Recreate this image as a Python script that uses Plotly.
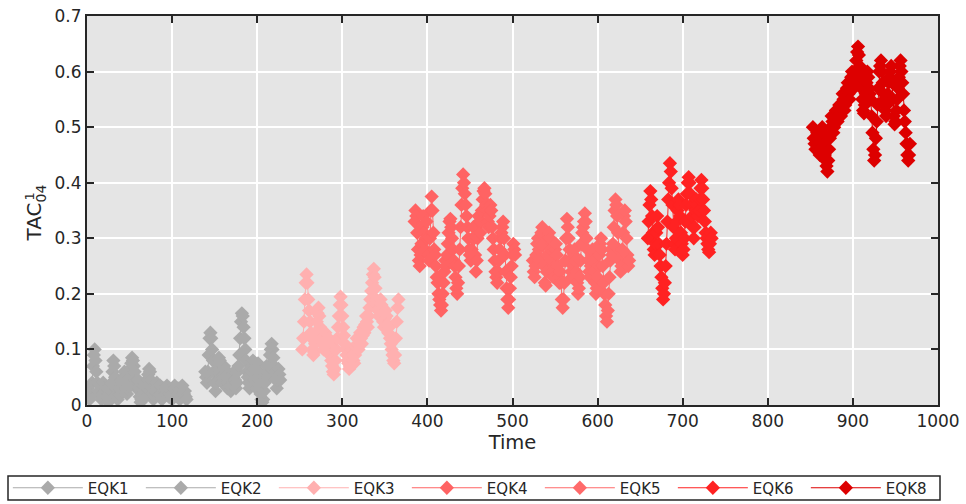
import plotly.graph_objects as go

# ---- data (one value per time step) ----
eqk1_start = 1
eqk1 = [0.03, 0.02, 0.01, 0.015, 0.02, 0.04, 0.07, 0.09, 0.10, 0.08,
        0.06, 0.04, 0.02, 0.025, 0.035, 0.02, 0.01, 0.02, 0.04, 0.03,
        0.02, 0.025, 0.03, 0.015, 0.005, 0.02, 0.035, 0.025, 0.04, 0.06,
        0.08, 0.07, 0.05, 0.03, 0.02, 0.01, 0.02, 0.04, 0.03, 0.02,
        0.025, 0.04, 0.05, 0.06, 0.05, 0.03, 0.02, 0.03, 0.035, 0.05,
        0.065, 0.075, 0.085, 0.08, 0.07, 0.06, 0.045, 0.03, 0.04, 0.045,
        0.03, 0.015, 0.005, 0.01, 0.02, 0.035, 0.04, 0.025, 0.015, 0.03,
        0.045, 0.055, 0.065, 0.06, 0.045, 0.03, 0.02, 0.01, 0.015, 0.025,
        0.035, 0.04, 0.03, 0.02, 0.025, 0.035, 0.02, 0.01, 0.015, 0.03,
        0.025, 0.02, 0.03, 0.035, 0.025, 0.015, 0.02, 0.025, 0.015, 0.01,
        0.02, 0.03, 0.035, 0.03, 0.02, 0.025, 0.03, 0.02, 0.01, 0.015,
        0.03, 0.035, 0.025, 0.02, 0.025, 0.015, 0.01]

eqk2_start = 139
eqk2 = [0.06, 0.05, 0.04, 0.06, 0.09, 0.12, 0.13, 0.12, 0.10, 0.08,
        0.06, 0.04, 0.025, 0.04, 0.06, 0.075, 0.085, 0.08, 0.06, 0.05,
        0.04, 0.05, 0.07, 0.065, 0.05, 0.035, 0.03, 0.04, 0.05, 0.035,
        0.025, 0.03, 0.04, 0.05, 0.06, 0.045, 0.03, 0.04, 0.06, 0.07,
        0.09, 0.12, 0.15, 0.165, 0.16, 0.14, 0.12, 0.10, 0.08, 0.06,
        0.05, 0.04, 0.03, 0.045, 0.06, 0.07, 0.08, 0.065, 0.045, 0.035,
        0.03, 0.05, 0.075, 0.06, 0.035, 0.02, 0.01, 0.005, 0.01, 0.025,
        0.04, 0.055, 0.07, 0.06, 0.05, 0.07, 0.09, 0.10, 0.11, 0.10,
        0.085, 0.07, 0.06, 0.045, 0.03, 0.045, 0.065, 0.055, 0.045]

eqk3_start = 253
eqk3 = [0.10, 0.12, 0.15, 0.19, 0.22, 0.235, 0.22, 0.19, 0.17, 0.15,
        0.13, 0.12, 0.10, 0.09, 0.095, 0.11, 0.13, 0.15, 0.165, 0.175,
        0.16, 0.14, 0.13, 0.12, 0.11, 0.10, 0.12, 0.13, 0.11, 0.095,
        0.10, 0.12, 0.11, 0.09, 0.08, 0.07, 0.06, 0.055, 0.065, 0.08,
        0.10, 0.12, 0.14, 0.16, 0.18, 0.195, 0.18, 0.16, 0.14, 0.125,
        0.11, 0.10, 0.09, 0.08, 0.075, 0.065, 0.07, 0.085, 0.10, 0.09,
        0.08, 0.075, 0.09, 0.105, 0.12, 0.11, 0.10, 0.115, 0.13, 0.12,
        0.11, 0.125, 0.14, 0.13, 0.145, 0.16, 0.15, 0.14, 0.16, 0.175,
        0.19, 0.205, 0.22, 0.235, 0.245, 0.23, 0.21, 0.19, 0.18, 0.17,
        0.16, 0.175, 0.19, 0.18, 0.165, 0.15, 0.14, 0.155, 0.17, 0.16,
        0.145, 0.13, 0.14, 0.12, 0.11, 0.10, 0.09, 0.08, 0.075, 0.09,
        0.12, 0.15, 0.175, 0.19]

eqk4_start = 385
eqk4 = [0.33, 0.35, 0.34, 0.31, 0.28, 0.26, 0.25, 0.27, 0.29, 0.32,
        0.34, 0.31, 0.28, 0.30, 0.33, 0.30, 0.27, 0.26, 0.30, 0.35,
        0.375, 0.35, 0.31, 0.28, 0.27, 0.25, 0.23, 0.22, 0.20, 0.19,
        0.18, 0.17, 0.18, 0.20, 0.22, 0.24, 0.26, 0.25, 0.27, 0.29,
        0.31, 0.33, 0.335, 0.32, 0.30, 0.28, 0.26, 0.25, 0.23, 0.21,
        0.20, 0.22, 0.25, 0.28, 0.32, 0.36, 0.39, 0.415, 0.40, 0.38,
        0.36, 0.34, 0.32, 0.30, 0.28, 0.27, 0.26, 0.28, 0.30, 0.32,
        0.30, 0.27, 0.24, 0.26, 0.30, 0.34, 0.33, 0.31, 0.33, 0.35,
        0.37, 0.385, 0.39, 0.38, 0.36, 0.35, 0.33, 0.32, 0.34, 0.36,
        0.35, 0.32, 0.30, 0.28, 0.26, 0.24, 0.23, 0.22, 0.24, 0.26,
        0.28, 0.30, 0.31, 0.32, 0.33, 0.30, 0.27, 0.24, 0.21, 0.19,
        0.175, 0.19, 0.21, 0.23, 0.25, 0.27, 0.29, 0.28, 0.27]

eqk5_start = 524
eqk5 = [0.26, 0.24, 0.23, 0.25, 0.27, 0.29, 0.30, 0.28, 0.26, 0.29,
        0.31, 0.32, 0.29, 0.25, 0.22, 0.215, 0.24, 0.27, 0.30, 0.31,
        0.30, 0.28, 0.26, 0.24, 0.23, 0.25, 0.28, 0.29, 0.27, 0.25,
        0.23, 0.22, 0.24, 0.22, 0.19, 0.175, 0.19, 0.22, 0.26, 0.30,
        0.335, 0.32, 0.30, 0.28, 0.26, 0.24, 0.23, 0.25, 0.27, 0.28,
        0.26, 0.24, 0.22, 0.20, 0.21, 0.23, 0.26, 0.29, 0.31, 0.32,
        0.33, 0.345, 0.33, 0.30, 0.28, 0.26, 0.24, 0.23, 0.25, 0.27,
        0.28, 0.26, 0.24, 0.22, 0.20, 0.21, 0.23, 0.25, 0.27, 0.29,
        0.30, 0.28, 0.25, 0.22, 0.20, 0.18, 0.16, 0.15, 0.17, 0.20,
        0.23, 0.26, 0.28, 0.27, 0.29, 0.32, 0.35, 0.37, 0.36, 0.34,
        0.31, 0.28, 0.26, 0.24, 0.25, 0.28, 0.31, 0.34, 0.35, 0.33,
        0.30, 0.27, 0.25, 0.26]

eqk6_start = 659
eqk6 = [0.30, 0.33, 0.36, 0.385, 0.37, 0.34, 0.31, 0.28, 0.27, 0.29,
        0.31, 0.34, 0.32, 0.29, 0.27, 0.25, 0.23, 0.21, 0.19, 0.20,
        0.22, 0.25, 0.29, 0.33, 0.37, 0.40, 0.435, 0.42, 0.39, 0.36,
        0.32, 0.29, 0.28, 0.30, 0.33, 0.35, 0.37, 0.36, 0.34, 0.31,
        0.29, 0.27, 0.28, 0.30, 0.33, 0.36, 0.38, 0.40, 0.41, 0.40,
        0.38, 0.36, 0.34, 0.32, 0.30, 0.32, 0.35, 0.37, 0.36, 0.34,
        0.35, 0.37, 0.39, 0.405, 0.39, 0.37, 0.35, 0.33, 0.31, 0.30,
        0.29, 0.28, 0.275, 0.29, 0.31, 0.30]

eqk8_start = 853
eqk8 = [0.50, 0.48, 0.47, 0.46, 0.47, 0.49, 0.47, 0.46, 0.45, 0.46,
        0.48, 0.50, 0.49, 0.47, 0.45, 0.44, 0.43, 0.42, 0.44, 0.46,
        0.48, 0.50, 0.52, 0.51, 0.49, 0.50, 0.52, 0.53, 0.52, 0.51,
        0.52, 0.54, 0.53, 0.52, 0.54, 0.56, 0.55, 0.53, 0.54, 0.56,
        0.57, 0.58, 0.56, 0.55, 0.57, 0.59, 0.60, 0.58, 0.57, 0.58,
        0.60, 0.62, 0.635, 0.645, 0.63, 0.61, 0.59, 0.57, 0.55, 0.53,
        0.525, 0.54, 0.56, 0.58, 0.60, 0.59, 0.57, 0.56, 0.55, 0.52,
        0.49, 0.46, 0.44, 0.45, 0.48, 0.51, 0.54, 0.57, 0.60, 0.61,
        0.62, 0.60, 0.58, 0.56, 0.55, 0.53, 0.52, 0.54, 0.56, 0.58,
        0.59, 0.60, 0.61, 0.58, 0.55, 0.52, 0.505, 0.51, 0.53, 0.55,
        0.57, 0.59, 0.61, 0.62, 0.60, 0.58, 0.56, 0.53, 0.51, 0.49,
        0.47, 0.45, 0.44, 0.45, 0.47]

step = 1
series_names = ["EQK1", "EQK2", "EQK3", "EQK4", "EQK5", "EQK6", "EQK8"]
series_starts = [eqk1_start, eqk2_start, eqk3_start, eqk4_start, eqk5_start, eqk6_start, eqk8_start]
series_values = [eqk1, eqk2, eqk3, eqk4, eqk5, eqk6, eqk8]
series_colors = ["#aaaaaa", "#aaaaaa", "#ffb0b0", "#ff6363", "#ff6a6a", "#ff2222", "#dd0000"]

x_ticks = list(range(0, 1001, 100))
y_ticks = [0, 0.1, 0.2, 0.3, 0.4, 0.5, 0.6, 0.7]
y_ticktext = ["0", "0.1", "0.2", "0.3", "0.4", "0.5", "0.6", "0.7"]

FONT = "DejaVu Sans"
TXT = "#262626"

fig = go.Figure()
for name, start, vals, col in zip(series_names, series_starts, series_values, series_colors):
    t = [start + step * i for i in range(len(vals))]
    fig.add_trace(go.Scatter(
        x=t, y=vals, name=name, mode="lines+markers",
        line=dict(color=col, width=1),
        marker=dict(symbol="diamond", size=11, color=col, line=dict(width=0)),
    ))

axis_common = dict(
    showline=True, linecolor=TXT, linewidth=2, mirror="ticks",
    ticks="inside", ticklen=7, tickwidth=2, tickcolor=TXT,
    showgrid=True, gridcolor="white", gridwidth=2, zeroline=False,
    tickfont=dict(family=FONT, size=17, color=TXT),
)

fig.update_layout(
    width=966, height=504,
    margin=dict(l=87, r=28, t=16, b=99, autoexpand=False),
    paper_bgcolor="white", plot_bgcolor="#e5e5e5",
    font=dict(family=FONT, color=TXT),
    xaxis=dict(range=[0, 1000], tickvals=x_ticks, **axis_common,
               title=dict(text="Time", font=dict(family=FONT, size=19.5, color=TXT), standoff=5)),
    yaxis=dict(range=[0, 0.7], tickvals=y_ticks, ticktext=y_ticktext, **axis_common),
    showlegend=True,
    legend=dict(orientation="h", x=-0.093, y=-0.2134, xanchor="left", yanchor="middle",
                borderwidth=0, bgcolor="rgba(0,0,0,0)",
                font=dict(family=FONT, size=15, color=TXT),
                itemwidth=70, entrywidth=48, tracegroupgap=0),
)

# legend frame
fig.add_shape(type="rect", xref="paper", yref="paper",
              x0=(8 - 87) / 851, x1=(940 - 87) / 851,
              y0=(405 - 500) / 389, y1=(405 - 476) / 389,
              line=dict(color=TXT, width=1.5), fillcolor="rgba(0,0,0,0)", layer="below")

# y-axis label: TAC with stacked superscript 1 and subscript 04
fig.add_annotation(text="TAC<sub>04</sub>", xref="paper", yref="paper", x=-0.06, y=0.495,
                   xanchor="center", yanchor="middle",
                   showarrow=False, textangle=-90, font=dict(family=FONT, size=20, color=TXT))
fig.add_annotation(text="1", xref="paper", yref="paper", x=-0.0675, y=0.535,
                   xanchor="center", yanchor="middle",
                   showarrow=False, textangle=-90, font=dict(family=FONT, size=13, color=TXT))

fig.write_html("out.html")
